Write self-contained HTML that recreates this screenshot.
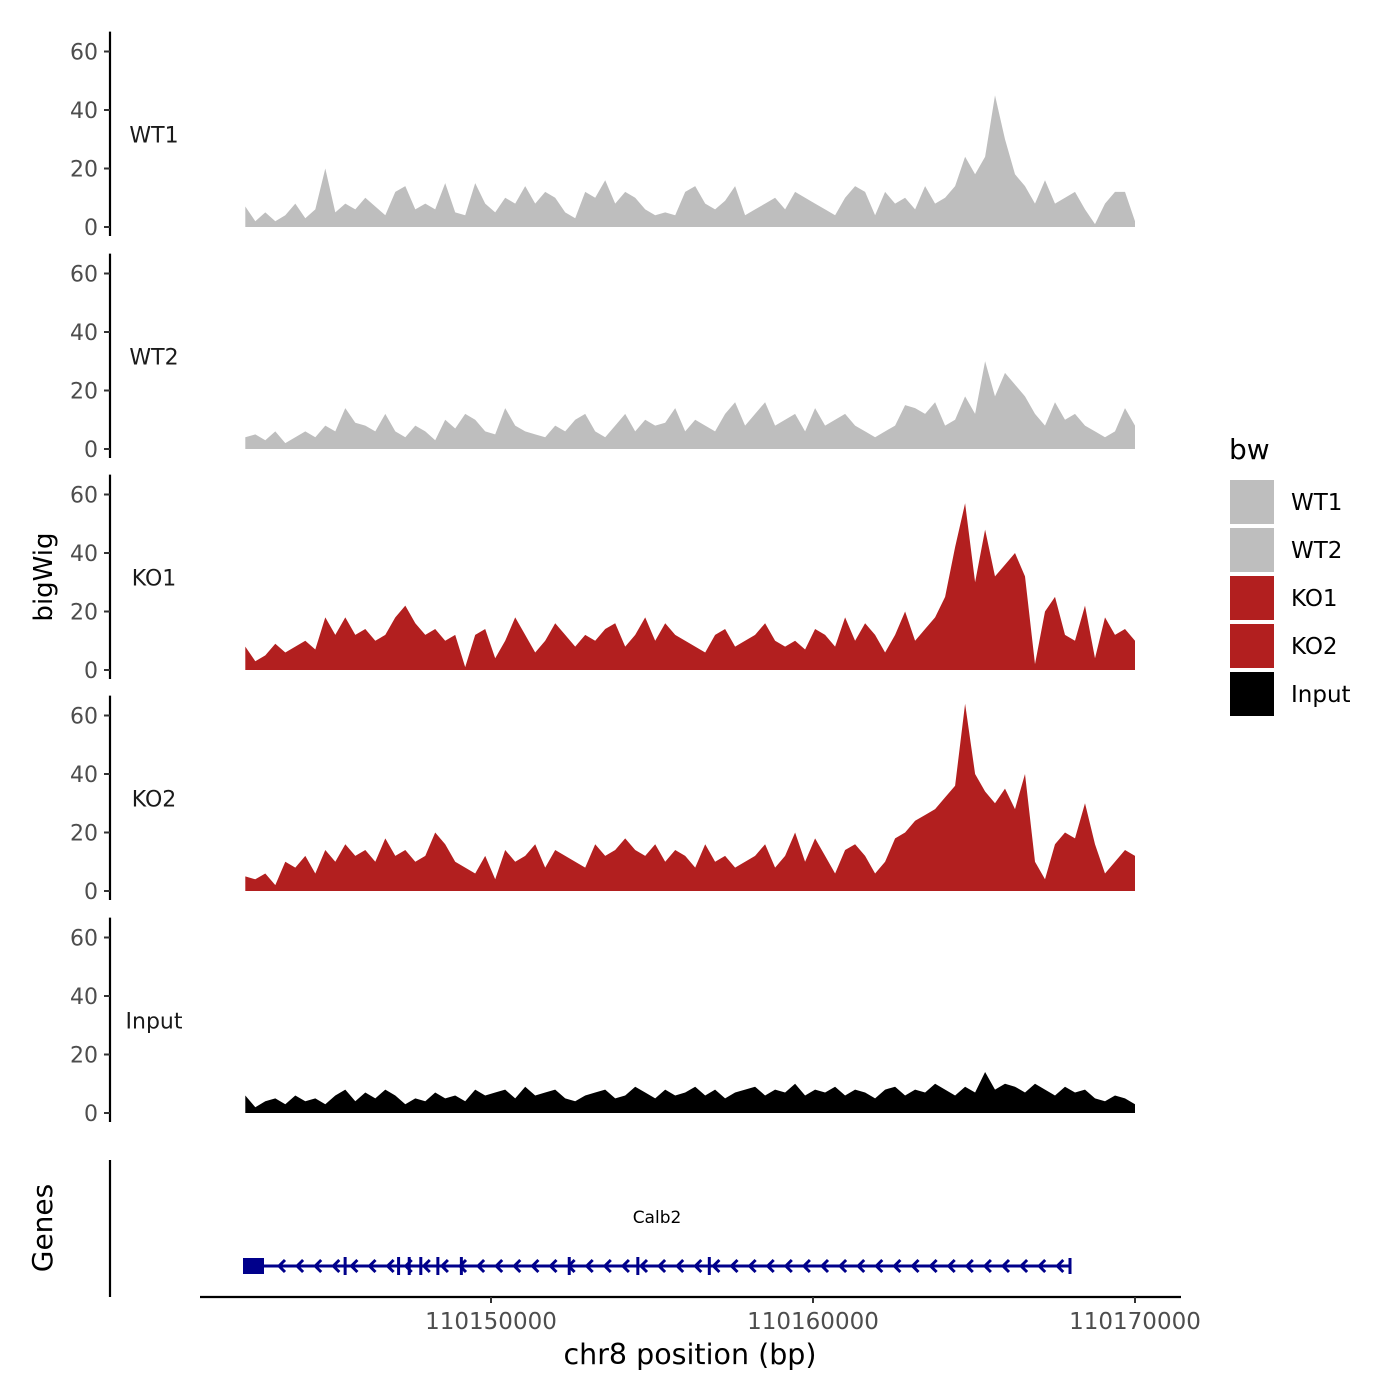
<!DOCTYPE html>
<html><head><meta charset="utf-8"><style>
body{margin:0;background:#fff;}
svg{display:block;font-family:"DejaVu Sans","Liberation Sans",sans-serif;}
</style></head><body>
<svg id="chart" width="1400" height="1400" viewBox="0 0 1400 1400"></svg>
<script>
const samples = ["WT1","WT2","KO1","KO2","Input"];
const colors = ["#bebebe","#bebebe","#b21f1f","#b21f1f","#000000"];
const yTicks = [0,20,40,60];
const xTicks = [110150000,110160000,110170000];
const xTickLabels = ["110150000","110160000","110170000"];
const regionStart = 110142370;
const regionEnd = 110170000;
const wt1 = [7,2,5,2,4,8,3,6,20,5,8,6,10,7,4,12,14,6,8,6,15,5,4,15,8,5,10,8,14,8,12,10,5,3,12,10,16,8,12,10,6,4,5,4,12,14,8,6,9,14,4,6,8,10,6,12,10,8,6,4,10,14,12,4,12,8,10,6,14,8,10,14,24,18,24,45,30,18,14,8,16,8,10,12,6,1,8,12,12,2];
const wt2 = [4,5,3,6,2,4,6,4,8,6,14,9,8,6,12,6,4,8,6,3,10,7,12,10,6,5,14,8,6,5,4,8,6,10,12,6,4,8,12,6,10,8,9,14,6,10,8,6,12,16,8,12,16,8,10,12,6,14,8,10,12,8,6,4,6,8,15,14,12,16,8,10,18,12,30,18,26,22,18,12,8,16,10,12,8,6,4,6,14,8];
const ko1 = [8,3,5,9,6,8,10,7,18,12,18,12,14,10,12,18,22,16,12,14,10,12,1,12,14,4,10,18,12,6,10,16,12,8,12,10,14,16,8,12,18,10,16,12,10,8,6,12,14,8,10,12,16,10,8,10,7,14,12,8,18,10,16,12,6,12,20,10,14,18,25,42,57,30,48,32,36,40,32,2,20,25,12,10,22,4,18,12,14,10];
const ko2 = [5,4,6,2,10,8,12,6,14,10,16,12,14,10,18,12,14,10,12,20,16,10,8,6,12,4,14,10,12,16,8,14,12,10,8,16,12,14,18,14,12,16,10,14,12,8,16,10,12,8,10,12,16,8,12,20,10,18,12,6,14,16,12,6,10,18,20,24,26,28,32,36,64,40,34,30,35,28,40,10,4,16,20,18,30,16,6,10,14,12];
const inp = [6,2,4,5,3,6,4,5,3,6,8,4,7,5,8,6,3,5,4,7,5,6,4,8,6,7,8,5,9,6,7,8,5,4,6,7,8,5,6,9,7,5,8,6,7,9,6,8,5,7,8,9,6,8,7,10,6,8,7,9,6,8,7,5,8,9,6,8,7,10,8,6,9,7,14,8,10,9,7,10,8,6,9,7,8,5,4,6,5,3];
const seriesValues = [wt1,wt2,ko1,ko2,inp];
const exonMarks = [110145470,110147130,110147460,110147820,110148350,110149080,110152430,110154560,110156780];

const NS="http://www.w3.org/2000/svg";
const svg=document.getElementById("chart");
function el(t,a,p){const e=document.createElementNS(NS,t);for(const k in a)e.setAttribute(k,a[k]);(p||svg).appendChild(e);return e;}
function xScale(bp){return 491+(bp-110150000)*322/10000;}
const panelZero=[227,449,670,891,1113];
function yScale(i,v){return panelZero[i]-v*175.5/60;}

samples.forEach((s,i)=>{
  const g=el("g",{});
  
  
  const ax=el("line",{x1:110,x2:110,y1:yScale(i,62)-14,y2:yScale(i,0)+9,stroke:"#000","stroke-width":2.2},g);
  
  
  yTicks.forEach(t=>{
    const y=yScale(i,t);
    el("line",{x1:104,x2:110,y1:y,y2:y,stroke:"#333","stroke-width":2},g);
    const tx=el("text",{x:98,y:y+8,"text-anchor":"end","font-size":22,fill:"#4d4d4d"},g);
    tx.textContent=t;
    
    
  });
  const lab=el("text",{x:154,y:yScale(i,30)+3,"text-anchor":"middle","font-size":22,fill:"#1a1a1a"},g);
  lab.textContent=s;
  
  
  const vals=seriesValues[i];
  const n=vals.length;
  let d="M"+xScale(regionStart)+","+yScale(i,0);
  vals.forEach((v,k)=>{
    const bp=regionStart+(regionEnd-regionStart)*k/(n-1);
    d+=" L"+xScale(bp).toFixed(1)+","+yScale(i,v).toFixed(1);
  });
  d+=" L"+xScale(regionEnd)+","+yScale(i,0)+" Z";
  const area=el("path",{d:d,fill:colors[i]},g);
  
  
});

const ylab=el("text",{x:52,y:577,"text-anchor":"middle","font-size":26,transform:"rotate(-90 52 577)",fill:"#000"});
ylab.textContent="bigWig";



const gl=el("line",{x1:110,x2:110,y1:1160,y2:1297,stroke:"#000","stroke-width":2.2});


const gt=el("text",{x:52,y:1228,"text-anchor":"middle","font-size":28,transform:"rotate(-90 52 1228)",fill:"#000"});
gt.textContent="Genes";


const gg=el("g",{stroke:"#00008b",fill:"none","stroke-width":3});


el("line",{x1:243,x2:1070,y1:1266,y2:1266},gg);
el("rect",{x:243,y:1258,width:21,height:16,fill:"#00008b",stroke:"none"},gg);
el("line",{x1:1070,x2:1070,y1:1258,y2:1274},gg);
for(let x=279;x<1066;x+=18.1){el("polyline",{points:(x+6)+",1260 "+x+",1266 "+(x+6)+",1272"},gg);}
exonMarks.forEach(bp=>{const x=xScale(bp);el("line",{x1:x,x2:x,y1:1257,y2:1275},gg);});
const gn=el("text",{x:657,y:1223,"text-anchor":"middle","font-size":17,fill:"#000"});
gn.textContent="Calb2";



const xa=el("line",{x1:200,x2:1181,y1:1297,y2:1297,stroke:"#000","stroke-width":2.2});


xTicks.forEach((t,k)=>{
  const x=xScale(t);
  el("line",{x1:x,x2:x,y1:1297,y2:1303,stroke:"#333","stroke-width":2});
  const tx=el("text",{x:x,y:1329,"text-anchor":"middle","font-size":23,fill:"#4d4d4d"});
  tx.textContent=xTickLabels[k];
  
  
});
const xt=el("text",{x:690,y:1364,"text-anchor":"middle","font-size":28.5,fill:"#000"});
xt.textContent="chr8 position (bp)";



const lg=el("g",{});


const lt=el("text",{x:1229,y:459,"font-size":28,fill:"#000"},lg);
lt.textContent="bw";


samples.forEach((s,i)=>{
  const y=480+i*48;
  const r=el("rect",{x:1230,y:y,width:44,height:44,fill:colors[i]},lg);
  
  
  const t=el("text",{x:1291,y:y+30,"font-size":23,fill:"#000"},lg);
  t.textContent=s;
  
  
});
</script>
</body></html>
